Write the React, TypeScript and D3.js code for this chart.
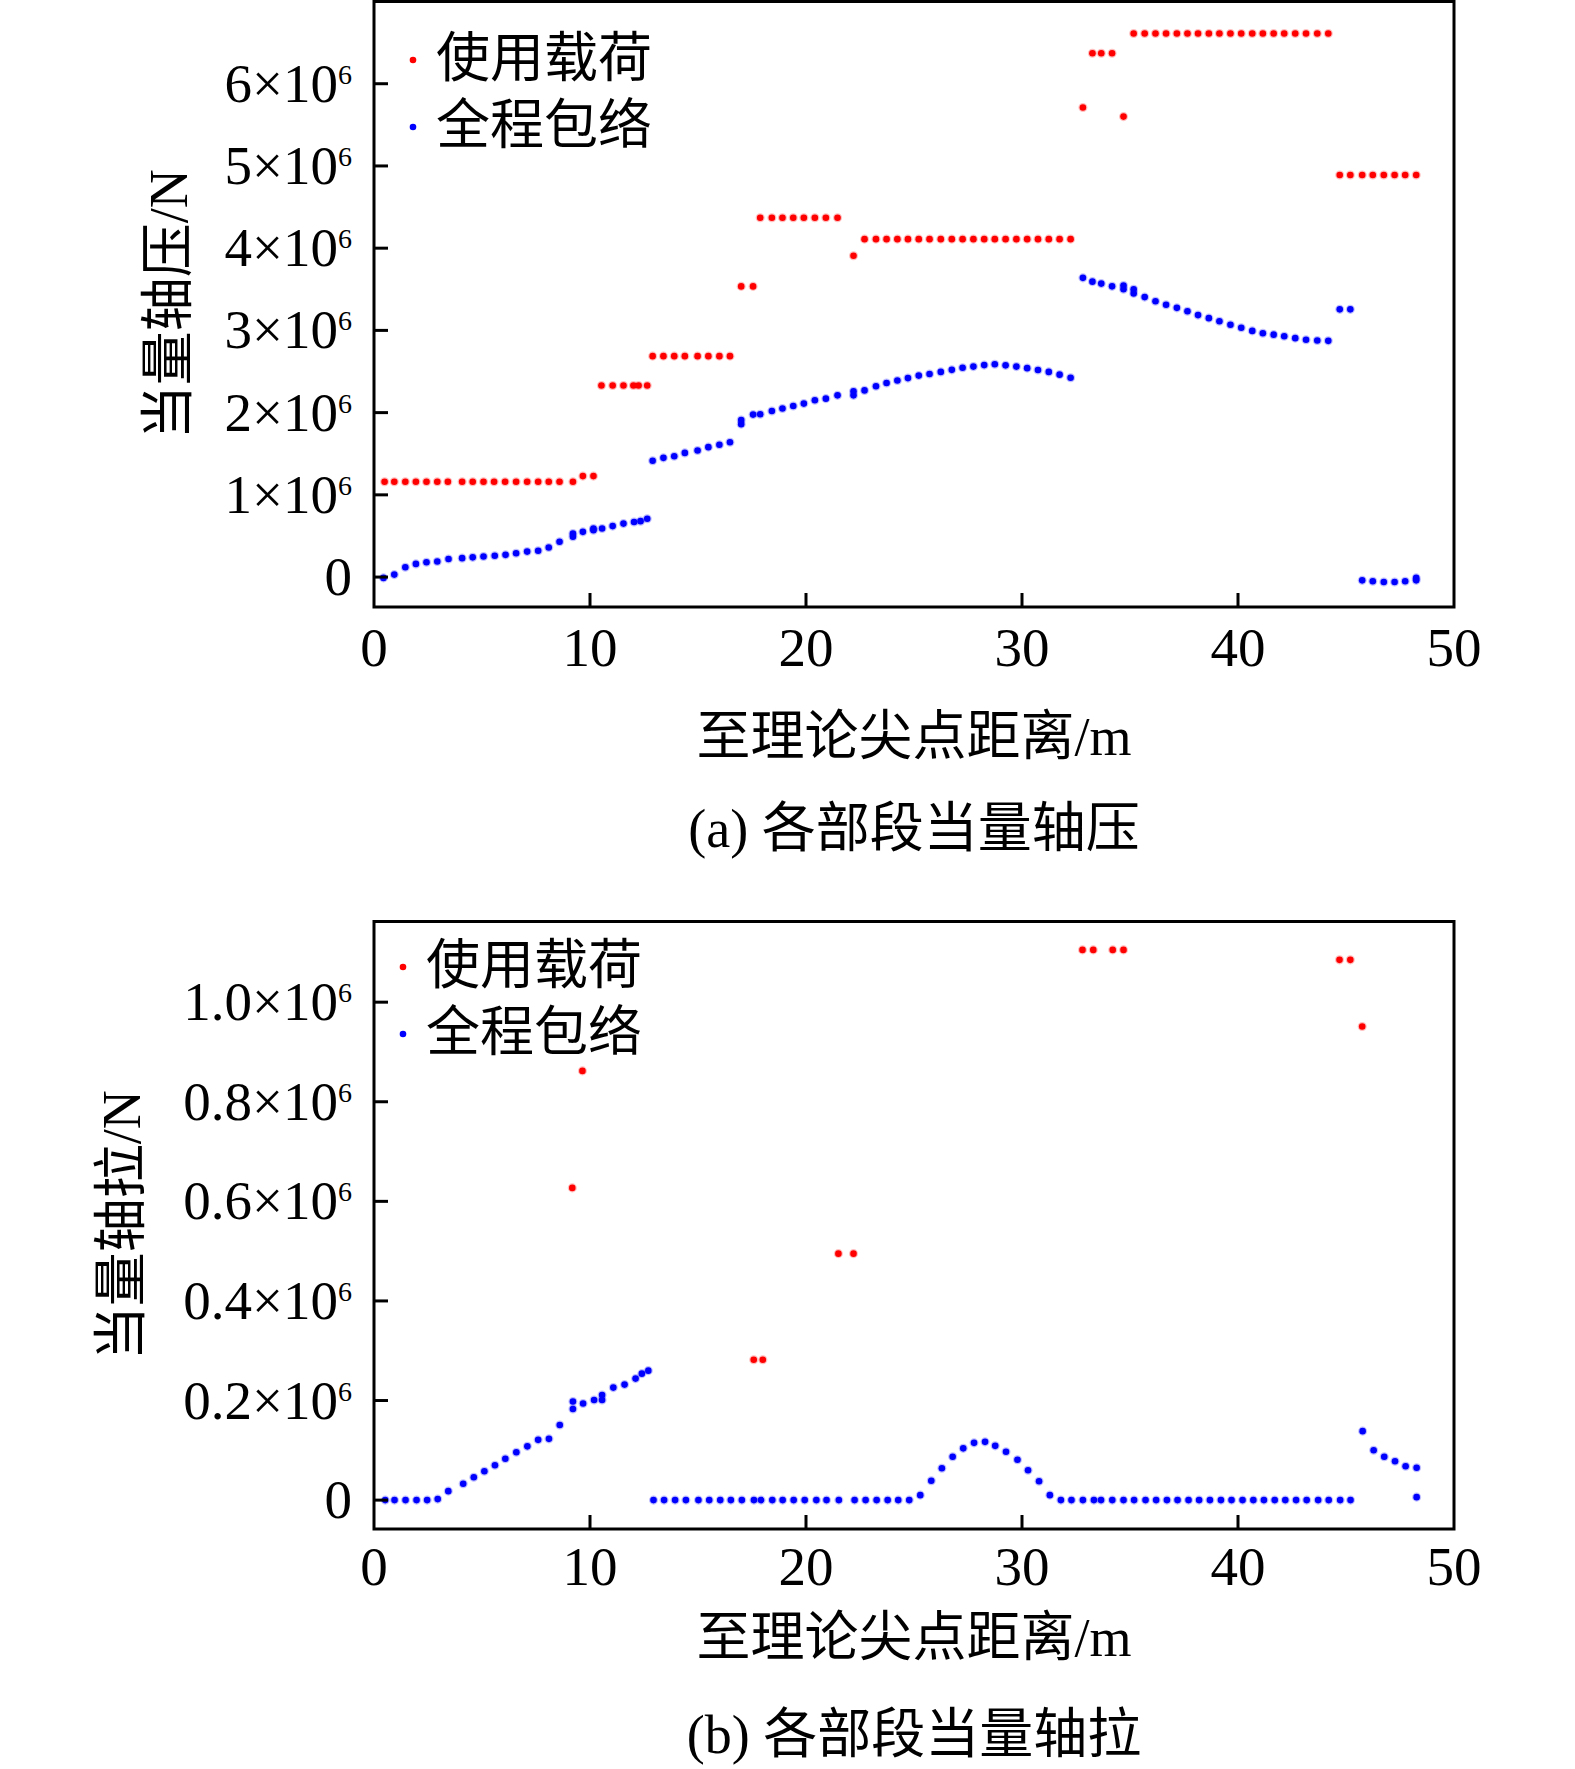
import React from 'react';
import * as d3 from 'd3';

// values in units of 10^6 N, x in m
const compUseLoad: [number, number][] = [
  [0.49, 1.16], [0.94, 1.16], [1.45, 1.16], [1.94, 1.16], [2.43, 1.16], [2.93, 1.16], [3.42, 1.16],
  [4.08, 1.16], [4.57, 1.16], [5.07, 1.16], [5.56, 1.16], [6.07, 1.16], [6.58, 1.16], [7.09, 1.16],
  [7.6, 1.16], [8.09, 1.16], [8.59, 1.16], [9.21, 1.16], [9.67, 1.228], [10.16, 1.228],
  [10.53, 2.33], [11.05, 2.33], [11.55, 2.33], [12.01, 2.33], [12.25, 2.33], [12.65, 2.33],
  [12.9, 2.687], [13.4, 2.687], [13.9, 2.687], [14.39, 2.687], [14.98, 2.687], [15.48, 2.687],
  [15.99, 2.687], [16.48, 2.687],
  [17.0, 3.535], [17.55, 3.535],
  [17.88, 4.37], [18.42, 4.37], [18.91, 4.37], [19.41, 4.37], [19.9, 4.37], [20.41, 4.37],
  [20.92, 4.37], [21.46, 4.37],
  [22.2, 3.907],
  [22.71, 4.11], [23.24, 4.11], [23.73, 4.11], [24.23, 4.11], [24.72, 4.11], [25.22, 4.11],
  [25.72, 4.11], [26.24, 4.11], [26.75, 4.11], [27.25, 4.11], [27.75, 4.11], [28.25, 4.11],
  [28.74, 4.11], [29.24, 4.11], [29.74, 4.11], [30.24, 4.11], [30.74, 4.11], [31.24, 4.11],
  [31.74, 4.11], [32.25, 4.11],
  [32.82, 5.71], [33.26, 6.37], [33.67, 6.37], [34.17, 6.37], [34.7, 5.6],
  [35.17, 6.61], [35.68, 6.61], [36.18, 6.61], [36.67, 6.61], [37.17, 6.61], [37.66, 6.61],
  [38.15, 6.61], [38.65, 6.61], [39.14, 6.61], [39.65, 6.61], [40.15, 6.61], [40.66, 6.61],
  [41.15, 6.61], [41.65, 6.61], [42.14, 6.61], [42.65, 6.61], [43.15, 6.61], [43.67, 6.61],
  [44.18, 6.61],
  [44.71, 4.89], [45.2, 4.89], [45.75, 4.89], [46.24, 4.89], [46.75, 4.89], [47.25, 4.89],
  [47.74, 4.89], [48.25, 4.89],
];

const compEnvelope: [number, number][] = [
  [0.44, -0.01], [0.94, 0.03], [1.45, 0.12], [1.94, 0.16], [2.43, 0.18], [2.93, 0.19], [3.45, 0.22],
  [4.08, 0.23], [4.57, 0.24], [5.07, 0.25], [5.59, 0.26], [6.09, 0.27], [6.58, 0.29], [7.09, 0.31],
  [7.6, 0.32], [8.09, 0.36], [8.59, 0.43], [9.21, 0.49], [9.21, 0.53], [9.67, 0.55], [10.16, 0.57],
  [10.16, 0.59], [10.56, 0.59], [11.05, 0.62], [11.55, 0.65], [12.04, 0.67], [12.34, 0.68],
  [12.65, 0.71],
  [12.9, 1.414], [13.4, 1.45], [13.9, 1.47], [14.39, 1.51], [14.98, 1.54], [15.48, 1.58],
  [15.99, 1.61], [16.48, 1.64],
  [17.0, 1.86], [17.0, 1.91], [17.55, 1.976], [17.88, 1.98], [18.42, 2.02], [18.91, 2.05],
  [19.41, 2.08], [19.9, 2.11], [20.41, 2.15], [20.92, 2.17], [21.46, 2.21], [22.2, 2.21],
  [22.2, 2.26], [22.71, 2.27], [23.24, 2.32], [23.73, 2.36], [24.23, 2.39], [24.72, 2.42],
  [25.22, 2.45], [25.72, 2.47], [26.24, 2.495], [26.75, 2.52], [27.25, 2.545], [27.75, 2.56],
  [28.25, 2.578], [28.74, 2.588], [29.24, 2.575], [29.74, 2.56], [30.24, 2.541], [30.74, 2.518],
  [31.24, 2.495], [31.74, 2.462], [32.25, 2.424],
  [32.82, 3.639], [33.26, 3.593], [33.67, 3.569], [34.17, 3.536], [34.7, 3.545], [34.7, 3.5],
  [35.17, 3.5], [35.17, 3.45], [35.68, 3.405], [36.18, 3.354], [36.67, 3.312], [37.17, 3.274],
  [37.66, 3.233], [38.15, 3.186], [38.65, 3.149], [39.14, 3.111], [39.65, 3.069], [40.15, 3.032],
  [40.66, 2.994], [41.15, 2.966], [41.65, 2.948], [42.14, 2.929], [42.65, 2.906], [43.15, 2.887],
  [43.67, 2.878], [44.18, 2.873],
  [44.71, 3.256], [45.2, 3.256],
  [45.75, -0.04], [46.24, -0.05], [46.75, -0.06], [47.25, -0.06], [47.74, -0.05], [48.25, -0.04],
  [48.25, -0.01],
];

const tensUseLoad: [number, number][] = [
  [9.18, 0.627], [9.65, 0.862], [17.58, 0.282], [18.0, 0.282], [21.5, 0.495], [22.2, 0.495],
  [32.8, 1.105], [33.3, 1.105], [34.2, 1.105], [34.7, 1.105], [44.7, 1.085], [45.2, 1.085],
  [45.75, 0.951],
];

const tensEnvelope: [number, number][] = [
  [0.52, 0], [0.95, 0], [1.46, 0], [1.97, 0], [2.46, 0], [2.95, 0.002], [3.44, 0.018],
  [4.13, 0.033], [4.62, 0.046], [5.11, 0.058], [5.6, 0.07], [6.08, 0.083], [6.59, 0.096],
  [7.1, 0.108], [7.6, 0.121], [8.1, 0.123], [8.6, 0.151], [9.21, 0.183], [9.21, 0.198],
  [9.68, 0.194], [10.19, 0.201], [10.56, 0.201], [10.56, 0.211], [11.08, 0.226], [11.6, 0.232],
  [12.11, 0.244], [12.4, 0.254], [12.7, 0.26],
  [12.94, 0], [13.43, 0], [13.94, 0], [14.44, 0], [15.02, 0], [15.52, 0], [16.03, 0], [16.52, 0],
  [17.03, 0], [17.59, 0], [17.92, 0], [18.44, 0], [18.92, 0], [19.43, 0], [19.94, 0], [20.48, 0],
  [20.95, 0], [21.52, 0], [22.25, 0], [22.76, 0], [23.27, 0], [23.78, 0], [24.27, 0], [24.78, 0],
  [25.29, 0.01], [25.8, 0.039], [26.29, 0.064], [26.79, 0.087], [27.28, 0.104], [27.78, 0.115],
  [28.29, 0.117], [28.76, 0.109], [29.26, 0.097], [29.79, 0.081], [30.28, 0.06], [30.79, 0.038],
  [31.29, 0.01],
  [31.8, 0], [32.29, 0], [32.82, 0], [33.33, 0], [33.66, 0], [34.18, 0], [34.7, 0], [35.19, 0],
  [35.72, 0], [36.21, 0], [36.71, 0], [37.2, 0], [37.71, 0], [38.2, 0], [38.7, 0], [39.21, 0],
  [39.7, 0], [40.21, 0], [40.71, 0], [41.2, 0], [41.7, 0], [42.19, 0], [42.69, 0], [43.18, 0],
  [43.71, 0], [44.2, 0], [44.73, 0], [45.21, 0],
  [45.77, 0.1385], [46.28, 0.1], [46.77, 0.087], [47.27, 0.078], [47.76, 0.068], [48.27, 0.065],
  [48.27, 0.006],
];

const xTicks = [0, 10, 20, 30, 40, 50];
const compYTicks = [0, 1, 2, 3, 4, 5, 6];
const compYLabels = ['0', '1×10', '2×10', '3×10', '4×10', '5×10', '6×10'];
const tensYTicks = [0, 0.2, 0.4, 0.6, 0.8, 1.0];
const tensYLabels = ['0', '0.2×10', '0.4×10', '0.6×10', '0.8×10', '1.0×10'];
const legendNames = ['使用载荷', '全程包络'];

const RED = '#ff0000';
const BLUE = '#0000ff';
const FONT = '"Liberation Serif", "Times New Roman", "Noto Sans CJK SC", serif';

interface PanelProps {
  top: number;
  bottom: number;
  yDomain: [number, number];
  yTicks: number[];
  yLabels: string[];
  red: [number, number][];
  blue: [number, number][];
  yTitle: string;
  yTitleX: number;
  legendX: number;
  legendY: number[];
  xLabelY: number;
  xTitleY: number;
  captionY: number;
  caption: string;
}

const left = 374;
const right = 1454;

function Panel(p: PanelProps) {
  const x = d3.scaleLinear().domain([0, 50]).range([left, right]);
  const y = d3.scaleLinear().domain(p.yDomain).range([p.bottom, p.top]);
  const midX = (left + right) / 2;
  const midY = (p.top + p.bottom) / 2;

  return (
    <g>
      {/* points */}
      {p.blue.map((d, i) => (
        <circle key={'b' + i} cx={x(d[0])} cy={y(d[1])} r={3.3} fill={BLUE}
          stroke={BLUE} strokeOpacity={0.25} strokeWidth={2.5} />
      ))}
      {p.red.map((d, i) => (
        <circle key={'r' + i} cx={x(d[0])} cy={y(d[1])} r={3.3} fill={RED}
          stroke={RED} strokeOpacity={0.25} strokeWidth={2.5} />
      ))}

      {/* frame */}
      <rect x={left} y={p.top} width={right - left} height={p.bottom - p.top}
        fill="none" stroke="#000" strokeWidth={3} />

      {/* y ticks (inward) */}
      {p.yTicks.map((t, i) => (
        <g key={'yt' + i}>
          <line x1={left} x2={left + 14} y1={y(t)} y2={y(t)} stroke="#000" strokeWidth={3} />
          <text x={352} y={y(t) + 18} textAnchor="end" fontSize={55} fontFamily={FONT}>
            {p.yLabels[i]}
            {t !== 0 && <tspan dy={-18} fontSize={28}>6</tspan>}
          </text>
        </g>
      ))}

      {/* x ticks (inward) */}
      {xTicks.map((t) => (
        <g key={'xt' + t}>
          {t > 0 && t < 50 && (
            <line x1={x(t)} x2={x(t)} y1={p.bottom} y2={p.bottom - 14} stroke="#000" strokeWidth={3} />
          )}
          <text x={x(t)} y={p.xLabelY} textAnchor="middle" fontSize={55} fontFamily={FONT}>{t}</text>
        </g>
      ))}

      {/* legend */}
      {legendNames.map((name, i) => (
        <g key={'lg' + i}>
          <circle cx={p.legendX} cy={p.legendY[i] + 3} r={3.3} fill={i === 0 ? RED : BLUE} />
          <text x={p.legendX + 23} y={p.legendY[i] + 20} fontSize={54} fontFamily={FONT}>{name}</text>
        </g>
      ))}

      {/* axis titles */}
      <text transform={`translate(${p.yTitleX},${midY}) rotate(-90)`} textAnchor="middle"
        fontSize={54} fontFamily={FONT}>{p.yTitle}</text>
      <text x={midX} y={p.xTitleY} textAnchor="middle" fontSize={54} fontFamily={FONT}>
        至理论尖点距离/m
      </text>
      <text x={midX} y={p.captionY} textAnchor="middle" fontSize={54} fontFamily={FONT}>
        {p.caption}
      </text>
    </g>
  );
}

export default function App() {
  return (
    <svg width={1575} height={1769} viewBox="0 0 1575 1769"
      style={{ position: 'absolute', left: 0, top: 0, background: '#fff' }}>
      <rect x={0} y={0} width={1575} height={1769} fill="#fff" />
      <Panel
        top={1.5} bottom={607} yDomain={[-0.364, 7.0]}
        yTicks={compYTicks} yLabels={compYLabels}
        red={compUseLoad} blue={compEnvelope}
        yTitle="当量轴压/N" yTitleX={187}
        legendX={413} legendY={[57, 124]}
        xLabelY={666} xTitleY={755} captionY={847}
        caption="(a) 各部段当量轴压"
      />
      <Panel
        top={921.5} bottom={1529} yDomain={[-0.058, 1.162]}
        yTicks={tensYTicks} yLabels={tensYLabels}
        red={tensUseLoad} blue={tensEnvelope}
        yTitle="当量轴拉/N" yTitleX={140}
        legendX={403} legendY={[964, 1031]}
        xLabelY={1585} xTitleY={1656} captionY={1753}
        caption="(b) 各部段当量轴拉"
      />
    </svg>
  );
}
